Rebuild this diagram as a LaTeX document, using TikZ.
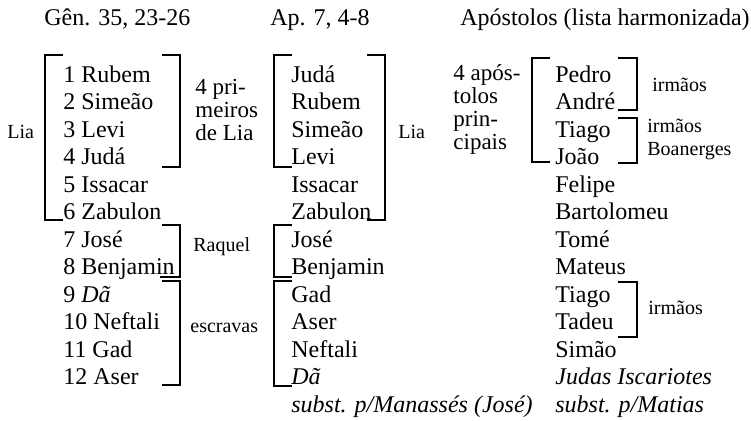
\documentclass[tikz,border=0pt]{standalone}
\usepackage{fontspec}
\setmainfont{Liberation Serif}
\usetikzlibrary{positioning}
\tikzset{
  entry/.style={anchor=base west, inner sep=0pt, font=\fontsize{12}{14}\selectfont},
  note/.style={anchor=west, inner sep=0pt, align=left, font=\fontsize{10}{11.5}\selectfont},
  group/.style={anchor=west, inner sep=0pt, align=left, font=\fontsize{11.5}{11.5}\selectfont},
  brk/.style={line width=0.9pt}
}

\begin{document}
\begin{tikzpicture}[x=0.5pt, y=-0.5pt]
  \useasboundingbox (0,0) rectangle (751,420);

  % Headers
  \node[entry] (hgen) at (44,25)  {Gên. 35, 23-26};
  \node[entry] (hap)  at (270,25) {Ap. 7, 4-8};
  \node[entry] (hapo) at (460,25) {Apóstolos (lista harmonizada)};

  % Gênesis
  \foreach \t [count=\i] in {1 Rubem, 2 Simeão, 3 Levi, 4 Judá, 5 Issacar,
      6 Zabulon, 7 José, 8 Benjamin, 9 \textit{Dã}, 10 Neftali, 11 Gad, 12 Aser}
    \node[entry] (g\i) at (63,{82+27.5*(\i-1)}) {\t};

  % Apocalipse
  \foreach \t [count=\i] in {Judá, Rubem, Simeão, Levi, Issacar, Zabulon,
      José, Benjamin, Gad, Aser, Neftali, \textit{Dã}, \textit{subst. p/Manassés (José)}}
    \node[entry] (a\i) at (291,{82+27.5*(\i-1)}) {\t};

  % Apostolos
  \foreach \t [count=\i] in {Pedro, André, Tiago, João, Felipe, Bartolomeu,
      Tomé, Mateus, Tiago, Tadeu, Simão, \textit{Judas Iscariotes}, \textit{subst. p/Matias}}
    \node[entry] (p\i) at (555,{82+27.5*(\i-1)}) {\t};

  % Brackets, Gênesis
  \draw[brk] (63,55) -- (45,55) -- (45,220) -- (63,220);
  \draw[brk] (162,55) -- (180,55) -- (180,167) -- (162,167);
  \draw[brk] (162,225) -- (180,225) -- (180,277) -- (160,277);
  \draw[brk] (162,281) -- (180,281) -- (180,385) -- (162,385);
  \node[note] (llia) at (7,132) {Lia};
  \node[group] (lprim) at (195,110) {4 pri-\\meiros\\de Lia};
  \node[note] (lraq) at (193,247) {Raquel};
  \node[note] (lesc) at (190,328) {escravas};

  % Brackets, Apocalipse
  \draw[brk] (292,55) -- (274,55) -- (274,167) -- (292,167);
  \draw[brk] (367,55) -- (385,55) -- (385,220) -- (367,220);
  \draw[brk] (292,225) -- (274,225) -- (274,277) -- (292,277);
  \draw[brk] (292,281) -- (274,281) -- (274,386) -- (292,386);
  \node[note] (alia) at (398,132) {Lia};
  \node[group] (aprin) at (453,109) {4 após-\\tolos\\prin-\\cipais};

  % Brackets, apostolos
  \draw[brk] (550,58) -- (532,58) -- (532,162) -- (550,162);
  \draw[brk] (618,58) -- (637,58) -- (637,110) -- (618,110);
  \draw[brk] (618,118) -- (637,118) -- (637,163) -- (618,163);
  \draw[brk] (618,282) -- (637,282) -- (637,337) -- (618,337);
  \node[note] (pirm1) at (652,85) {irmãos};
  \node[note] (pirm2) at (647,139) {irmãos\\Boanerges};
  \node[note] (pirm3) at (648,308) {irmãos};
\end{tikzpicture}
\end{document}
